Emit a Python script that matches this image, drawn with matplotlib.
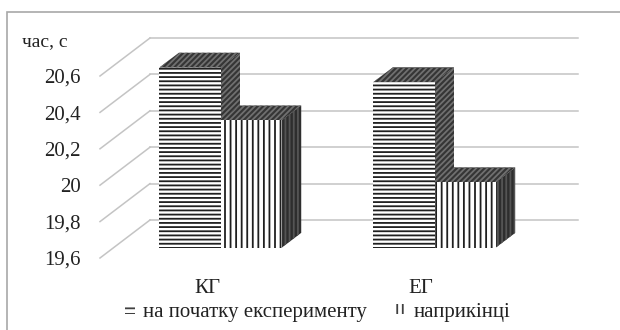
import matplotlib.pyplot as plt
from matplotlib.patches import Polygon, Patch, Rectangle

plt.rcParams['font.family'] = ['Liberation Serif', 'DejaVu Serif']
plt.rcParams['hatch.linewidth'] = 1.3

# data
groups = ['КГ', 'ЕГ']
series_names = ['на початку експерименту', 'наприкінці']
start_vals = [20.59, 20.51]
end_vals = [20.30, 19.96]
yticks = [19.6, 19.8, 20.0, 20.2, 20.4, 20.6]
ytick_labels = ['19,6', '19,8', '20', '20,2', '20,4', '20,6']
y_title = 'час, с'

W, H = 620, 330
fig = plt.figure(figsize=(W / 100, H / 100), dpi=100)

# front plane of the pseudo-3D box, in pixels
left_px, right_px, low_px, high_px = 100, 528, 258, 76
ax = fig.add_axes([left_px / W, (H - low_px) / H,
                   (right_px - left_px) / W, (low_px - high_px) / H])
ax.set_xlim(0, len(groups))
ax.set_ylim(yticks[0], yticks[-1])
for s in ax.spines.values():
    s.set_visible(False)
ax.set_yticks(yticks, ytick_labels)
ax.set_xticks([i + 0.5 for i in range(len(groups))], groups)
ax.tick_params(axis='y', length=0, pad=14, labelsize=15, labelcolor='#222222')
ax.tick_params(axis='x', length=0, pad=15, labelsize=15, labelcolor='#222222')

# depth vector (full floor depth) in data units
DX = 50 / (right_px - left_px) * (ax.get_xlim()[1] - ax.get_xlim()[0])
DY = 38 / (low_px - high_px) * (yticks[-1] - yticks[0])


def proj(x, y, z):
    return (x + z * DX, y + z * DY)


# back wall grid and the slanted lines on the left wall
x_end = ax.get_xlim()[1]
for v in yticks:
    ax.plot(*zip(proj(0, v, 0), proj(0, v, 1)), color='#c4c4c4', lw=1.1,
            clip_on=False, zorder=1)
    ax.plot(*zip(proj(0, v, 1), proj(x_end, v, 1)), color='#c4c4c4', lw=1.1,
            clip_on=False, zorder=1)

# bar geometry
bar_w = 1 / 3.5
z0, z1 = 0.27, 0.66
base = yticks[0]

styles = [
    dict(front=('white', '#202020', '----'),
         side=('#353535', '#707070', '//////'),
         top=('#353535', '#707070', '//////')),
    dict(front=('white', '#202020', '|||'),
         side=('#2e2e2e', '#555555', '||||'),
         top=('#353535', '#707070', '//////')),
]


def face(pts, st, z):
    fc, hc, hatch = st
    ax.add_patch(Polygon(pts, closed=True, facecolor=fc, edgecolor=hc,
                         hatch=hatch, lw=0, clip_on=False, zorder=z))


z = 3
for gi in range(len(groups)):
    for si, vals in enumerate([start_vals, end_vals]):
        x0 = gi + 0.5 - bar_w + si * bar_w
        x1 = x0 + bar_w
        t = vals[gi]
        st = styles[si]
        face([proj(x1, base, z0), proj(x1, base, z1),
              proj(x1, t, z1), proj(x1, t, z0)], st['side'], z)
        face([proj(x0, t, z0), proj(x1, t, z0),
              proj(x1, t, z1), proj(x0, t, z1)], st['top'], z)
        face([proj(x0, base, z0), proj(x1, base, z0),
              proj(x1, t, z0), proj(x0, t, z0)], st['front'], z)
        z += 1

fig.text(22 / W, 1 - 42 / H, y_title, ha='left', va='center', fontsize=14,
         color='#222222')

handles = [Patch(facecolor='white', edgecolor='#404040', hatch='---', lw=0),
           Patch(facecolor='white', edgecolor='#404040', hatch='|||', lw=0)]
leg = fig.legend(handles, series_names, loc='center', ncol=2, frameon=False,
                 bbox_to_anchor=(318 / W, 1 - 312 / H), fontsize=15,
                 handlelength=0.45, handleheight=0.4, handletextpad=0.4,
                 columnspacing=1.4)
for txt in leg.get_texts():
    txt.set_color('#222222')

fig.patches.append(Rectangle((7 / W, -0.5), 2, (H - 12) / H + 0.5,
                             transform=fig.transFigure, fill=False,
                             edgecolor='#a8a8a8', lw=1.2))

fig.savefig('out.png', dpi=100)
